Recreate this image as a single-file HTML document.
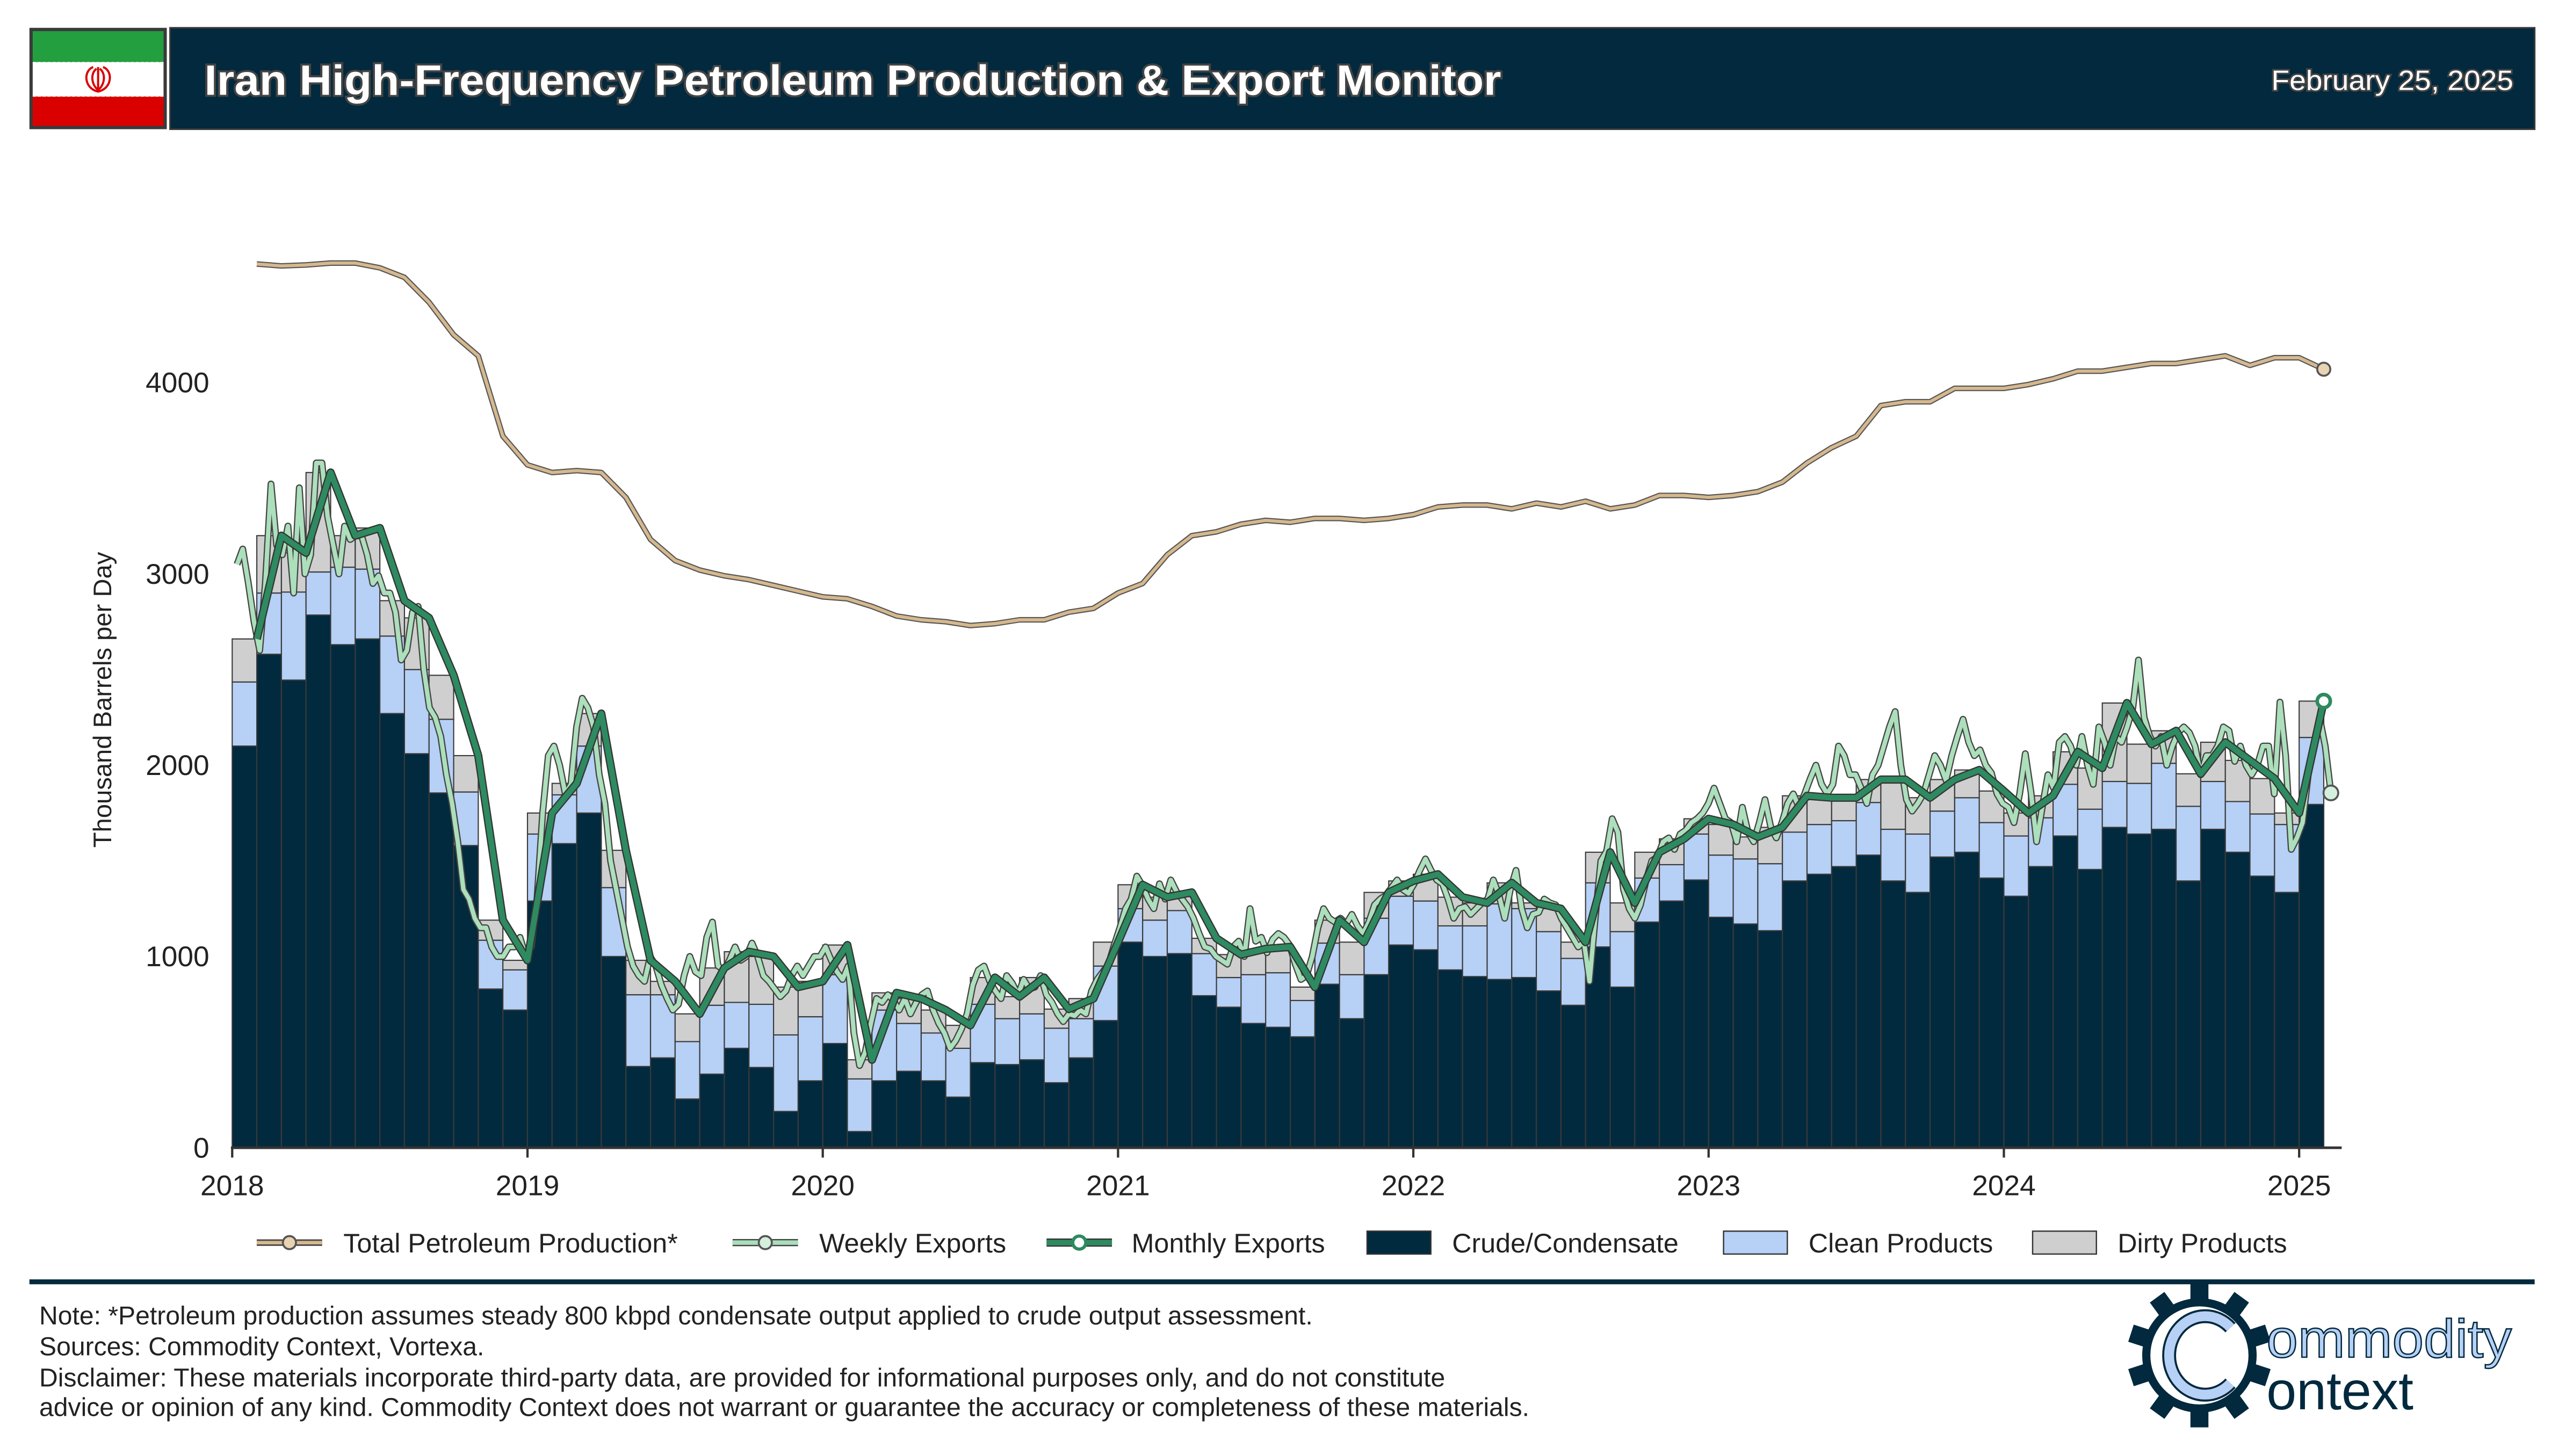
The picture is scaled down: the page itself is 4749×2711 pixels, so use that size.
<!DOCTYPE html>
<html><head><meta charset="utf-8">
<style>
html,body{margin:0;padding:0;background:#fff;}
svg{display:block;}
text{font-family:"Liberation Sans",Arial,sans-serif;}
</style></head>
<body>
<svg id="root" width="4749" height="2711" viewBox="0 0 1560 890.5" xmlns="http://www.w3.org/2000/svg">
  <rect x="0" y="0" width="1560" height="890.5" fill="#fff"/>
  <g>
    <g>
      <rect x="18" y="17" width="84" height="62" fill="#3a3a3a"/>
      <rect x="20" y="19" width="80" height="19" fill="#239f40"/>
      <rect x="20" y="38" width="80" height="21" fill="#fff"/>
      <rect x="20" y="59" width="80" height="18" fill="#da0000"/>
      <line x1="20" y1="38.5" x2="100" y2="38.5" stroke="#fff" stroke-width="1.2" stroke-dasharray="2 1"/>
      <line x1="20" y1="58.5" x2="100" y2="58.5" stroke="#fff" stroke-width="1.2" stroke-dasharray="2 1"/>
      <g fill="none" stroke="#da0000" stroke-width="1.3">
        <path d="M57 41 C51 43 51 54 60 56 C69 54 69 43 63 41"/>
        <path d="M59 42 C55 45 56 52 60 55 C64 52 65 45 61 42"/>
        <line x1="60" y1="41" x2="60" y2="56"/>
      </g>
    </g>
    <rect x="104" y="17" width="1446" height="62" fill="#02293d" stroke="#3a3a3a" stroke-width="1"/>
    <text x="125" y="58" font-size="26" font-weight="bold" fill="#fff" stroke="#444" stroke-width="2.5" paint-order="stroke" textLength="793" lengthAdjust="spacingAndGlyphs">Iran High-Frequency Petroleum Production &amp; Export Monitor</text>
    <text x="1537" y="55" font-size="17" fill="#fff" stroke="#444" stroke-width="2" paint-order="stroke" text-anchor="end" textLength="148" lengthAdjust="spacingAndGlyphs">February 25, 2025</text>
  </g>

  <g id="chart"></g>

  <g font-size="16.5" fill="#222">
    <g>
      <line x1="157" y1="760" x2="197" y2="760" stroke="#444" stroke-width="4"/>
      <line x1="157" y1="760" x2="197" y2="760" stroke="#d6b88e" stroke-width="2.2"/>
      <circle cx="177" cy="760" r="4" fill="#e8d3b3" stroke="#555" stroke-width="1.2"/>
      <text x="210" y="766">Total Petroleum Production*</text>
    </g>
    <g>
      <line x1="448" y1="760" x2="488" y2="760" stroke="#444" stroke-width="4.4"/>
      <line x1="448" y1="760" x2="488" y2="760" stroke="#a9debb" stroke-width="2.8"/>
      <circle cx="468" cy="760" r="4" fill="#d4f0dc" stroke="#555" stroke-width="1.2"/>
      <text x="501" y="766">Weekly Exports</text>
    </g>
    <g>
      <line x1="640" y1="760" x2="680" y2="760" stroke="#333" stroke-width="5"/>
      <line x1="640" y1="760" x2="680" y2="760" stroke="#2e8a60" stroke-width="3.5"/>
      <circle cx="660" cy="760" r="4" fill="#fff" stroke="#2e8a60" stroke-width="2"/>
      <text x="692" y="766">Monthly Exports</text>
    </g>
    <g>
      <rect x="836" y="753" width="39" height="14" fill="#022a3e" stroke="#333" stroke-width="0.8"/>
      <text x="888" y="766">Crude/Condensate</text>
    </g>
    <g>
      <rect x="1054" y="753" width="39" height="14" fill="#b6d0f6" stroke="#333" stroke-width="0.8"/>
      <text x="1106" y="766">Clean Products</text>
    </g>
    <g>
      <rect x="1243" y="753" width="39" height="14" fill="#cfcfcf" stroke="#333" stroke-width="0.8"/>
      <text x="1295" y="766">Dirty Products</text>
    </g>
  </g>

  <line x1="18" y1="784" x2="1550" y2="784" stroke="#02293d" stroke-width="3"/>

  <g font-size="15.8" fill="#222">
    <text x="24" y="810">Note: *Petroleum production assumes steady 800 kbpd condensate output applied to crude output assessment.</text>
    <text x="24" y="829">Sources: Commodity Context, Vortexa.</text>
    <text x="24" y="848">Disclaimer: These materials incorporate third-party data, are provided for informational purposes only, and do not constitute</text>
    <text x="24" y="866">advice or opinion of any kind. Commodity Context does not warrant or guarantee the accuracy or completeness of these materials.</text>
  </g>

  <g>
    <g id="gear" fill="#02293d"></g>
    <circle cx="1345" cy="829" r="30" fill="#fff"/>
    <path d="M1364 812 A22 24 0 1 0 1364 846" fill="none" stroke="#02293d" stroke-width="8.5"/>
    <path d="M1364 812 A22 24 0 1 0 1364 846" fill="none" stroke="#b6d0f6" stroke-width="6"/>
    <text x="1386" y="830" font-size="33" fill="#b6d0f6" stroke="#02293d" stroke-width="0.8" textLength="150" lengthAdjust="spacingAndGlyphs">ommodity</text>
    <text x="1386" y="862" font-size="33" fill="#02293d">ontext</text>
  </g>
</svg>
<script>
// ---------- data ----------
const crude = [2100,2580,2445,2785,2630,2660,2270,2060,1855,1580,830,720,
1290,1590,1750,1000,425,470,255,385,520,420,190,350,
545,85,350,400,350,265,445,435,460,340,470,665,
1075,1000,1015,795,735,650,630,580,855,675,905,1060,
1035,930,895,880,890,820,745,1050,840,1180,1290,1400,
1205,1170,1135,1395,1430,1470,1530,1395,1335,1520,1545,1410,
1315,1470,1630,1455,1675,1640,1665,1395,1665,1545,1420,1335,
1795];
const clean = [335,320,460,225,405,365,405,440,385,280,255,210,
350,255,350,360,375,330,300,360,240,330,400,335,
360,275,370,250,250,255,305,240,240,285,205,285,
175,190,225,220,155,255,285,190,215,230,295,255,
255,230,265,395,360,310,245,335,290,230,190,240,
325,340,350,255,260,240,275,270,305,240,285,290,
315,255,270,315,240,265,345,390,250,265,325,355,
350];
const dirty = [225,300,205,520,165,215,185,270,230,190,105,50,
110,60,170,195,180,70,145,195,265,250,250,185,
155,100,90,130,120,120,140,115,190,100,105,125,
125,120,95,80,120,135,135,70,120,170,135,80,
140,150,120,110,30,120,85,160,150,135,135,80,
160,115,190,190,140,120,120,260,190,165,145,165,
120,115,170,215,410,205,170,170,205,215,185,60,
190];
const monthlyExports = [2660,3200,3110,3530,3200,3240,2860,2770,2470,2050,1190,980,
1750,1905,2270,1555,980,870,700,940,1025,1000,840,870,
1060,460,810,780,720,640,890,790,890,725,780,1075,
1375,1310,1335,1095,1010,1040,1050,840,1190,1075,1335,1395,
1430,1310,1280,1385,1280,1250,1075,1545,1280,1545,1615,1720,
1690,1625,1675,1840,1830,1830,1925,1925,1830,1925,1975,1865,
1750,1840,2070,1985,2325,2110,2180,1955,2120,2025,1930,1750,
2335];
const totalProduction = [4620,4610,4615,4625,4625,4600,4550,4420,4250,4140,3720,3570,
3530,3540,3530,3400,3180,3070,3020,2990,2970,2940,2910,2880,
2870,2830,2780,2760,2750,2730,2740,2760,2760,2800,2820,2900,
2950,3100,3200,3220,3260,3280,3270,3290,3290,3280,3290,3310,
3350,3360,3360,3340,3370,3350,3380,3340,3360,3410,3410,3400,
3410,3430,3480,3580,3660,3720,3880,3900,3900,3970,3970,3970,
3990,4020,4060,4060,4080,4100,4100,4120,4140,4090,4130,4130,
4070];
const weeklyExports = [3050,3130,2950,2750,2600, 2950,3470,3150,3100, 3250,2900,3450,3000, 3100,3580,3580,3300,3150, 3000,3250,3180,3200, 3200,3100,2950,2990, 2900,2900,2800,2550,2600, 2800,2830,2500,2300, 2250,2150,1950,1800, 1600,1350,1300,1200,1150, 1150,1050,1000,1000, 1050,1050,1100,1000,
1050,1300,1750,2050,2100, 2000,1850,1900,2200, 2350,2300,2200,1950, 1800,1500,1350,1200,1050, 950,900,870,1000, 950,850,780,720, 750,900,1000,920,900, 1100,1180,950,930, 980,1050,980,1000, 1070,1000,900,870,830, 790,820,900,950, 900,950,1000,1000,
1050,980,920,880,950, 600,430,500,650, 780,760,800,770, 720,780,700,760,800, 820,720,650,600, 520,560,620,700, 850,930,950,870,820, 780,900,860,800, 880,830,840,900, 800,760,700,660,700, 690,720,700,820, 880,920,960,1060,
1150,1250,1300,1420,1370, 1300,1250,1380,1300, 1400,1340,1300,1260, 1200,1120,1050,1040,1000, 980,960,1050,1080, 1000,1250,1080,1100, 1020,1090,1120,1100,1060, 960,880,900,1000, 1150,1250,1200,1180, 1200,1170,1220,1160,1120, 1180,1270,1300,1320, 1360,1400,1350,1330,
1380,1450,1510,1450,1400, 1380,1300,1200,1250, 1260,1220,1250,1280, 1300,1400,1320,1200,1350, 1450,1250,1150,1220, 1230,1300,1280,1270, 1200,1150,1100,1050,1080, 870,1200,1500,1550, 1720,1650,1350,1250, 1200,1270,1400,1500,1520, 1600,1620,1560,1640, 1660,1700,1720,1750,
1800,1880,1800,1720,1700, 1600,1780,1650,1600, 1700,1820,1680,1620, 1700,1800,1850,1780,1850, 1930,2000,1900,1850, 1900,2100,2050,1950, 1950,1880,1800,1950,2000, 2100,2200,2280,2000, 1820,1760,1800,1850, 1950,2050,2000,1920,2050, 2150,2240,2120,2050, 2080,2000,1960,1850,
1800,1780,1700,1850,2060, 1860,1600,1780,1950, 1880,2120,2150,2100, 2000,2150,2000,1900,2200, 2120,2000,2150,2120, 2200,2300,2550,2250, 2150,2100,2150,2000,2100, 2170,2200,2170,2100, 1950,2050,2050,2100, 2200,2180,2020,2100,2000, 1950,2000,2100,2100, 1850,2330,2050,1560,
1620,1700,1950,2100,2250, 2100,1855];
const yTicks = [0,1000,2000,3000,4000];
const xTickYears = [2018,2019,2020,2021,2022,2023,2024,2025];

// ---------- axes ----------
const X0 = 142, PXYEAR = 180.57, Y0 = 702, PXUNIT = 0.117;
function xYear(t){ return X0 + (t - 2018) * PXYEAR; }
function xMonth(i){ return xYear(2018 + i / 12); }
function yVal(v){ return Y0 - v * PXUNIT; }

const NS = "http://www.w3.org/2000/svg";
const chart = document.getElementById('chart');
function mk(tag, attrs, parent){
  const e = document.createElementNS(NS, tag);
  for (const k in attrs) e.setAttribute(k, attrs[k]);
  (parent || chart).appendChild(e);
  return e;
}

const barsG = mk('g', {});


const bw = PXYEAR / 12;
for (let i = 0; i < crude.length; i++){
  const x = xMonth(i);
  const segs = [[crude[i], '#022a3e', 'crude'], [clean[i], '#b6d0f6', 'clean'], [dirty[i], '#cfcfcf', 'dirty']];
  let base = 0;
  for (const s of segs){
    const r = mk('rect', {x: x, y: yVal(base + s[0]), width: bw, height: s[0] * PXUNIT, fill: s[1], stroke: '#3a3a3a', 'stroke-width': 0.7}, barsG);
    
    
    base += s[0];
  }
}

function linePath(pts){ return pts.map((p, i) => (i ? 'L' : 'M') + p[0].toFixed(2) + ' ' + p[1].toFixed(2)).join(' '); }

const prodPts = totalProduction.map((v, i) => [xMonth(i + 1), yVal(v)]);
const prodOut = mk('path', {d: linePath(prodPts), fill: 'none', stroke: '#555', 'stroke-width': 3.4, 'stroke-linejoin': 'round'});


const prodLine = mk('path', {d: linePath(prodPts), fill: 'none', stroke: '#d6b88e', 'stroke-width': 2, 'stroke-linejoin': 'round'});


const pl = prodPts[prodPts.length - 1];
const prodEnd = mk('circle', {cx: pl[0], cy: pl[1], r: 4, fill: '#e8d3b3', stroke: '#555', 'stroke-width': 1.2});



const weekPts = weeklyExports.map((v, i) => [xYear(2018 + (6 + 7 * i) / 365.25), yVal(v)]);
const wkOut = mk('path', {d: linePath(weekPts), fill: 'none', stroke: '#444', 'stroke-width': 4.2, 'stroke-linejoin': 'round'});


const wkLine = mk('path', {d: linePath(weekPts), fill: 'none', stroke: '#acdfbb', 'stroke-width': 2.7, 'stroke-linejoin': 'round'});



const monPts = monthlyExports.map((v, i) => [xMonth(i + 1), yVal(v)]);
const monOut = mk('path', {d: linePath(monPts), fill: 'none', stroke: '#333', 'stroke-width': 5, 'stroke-linejoin': 'round'});


const monLine = mk('path', {d: linePath(monPts), fill: 'none', stroke: '#2e8a60', 'stroke-width': 3.5, 'stroke-linejoin': 'round'});


const ml = monPts[monPts.length - 1];
const monEnd = mk('circle', {cx: ml[0], cy: ml[1], r: 4, fill: '#fff', stroke: '#2e8a60', 'stroke-width': 2.2});


const wl = weekPts[weekPts.length - 1];
const wkEnd = mk('circle', {cx: wl[0], cy: wl[1], r: 4.5, fill: '#d4f0dc', stroke: '#555', 'stroke-width': 1.2});



const ax = mk('g', {});


const xAxis = mk('line', {x1: X0 - 0.8, y1: Y0, x2: 1432, y2: Y0, stroke: '#333', 'stroke-width': 1.6}, ax);


for (const v of yTicks){
  const y = yVal(v);
  const t = mk('text', {x: X0 - 14, y: y + 6, 'font-size': 17.5, fill: '#222', 'text-anchor': 'end'}, ax);
  t.textContent = String(v);
  
  
}
for (const yr of xTickYears){
  const x = xYear(yr);
  const tk = mk('line', {x1: x, y1: Y0, x2: x, y2: Y0 + 6, stroke: '#333', 'stroke-width': 1.4}, ax);
  
  
  const t = mk('text', {x: x, y: Y0 + 29, 'font-size': 17.5, fill: '#222', 'text-anchor': 'middle'}, ax);
  t.textContent = String(yr);
  
  
}
const yt = mk('text', {x: 0, y: 0, 'font-size': 15.5, fill: '#222', 'text-anchor': 'middle', transform: 'translate(68 428) rotate(-90)'}, ax);
yt.textContent = 'Thousand Barrels per Day';



const gear = document.getElementById('gear');
const gcx = 1345, gcy = 829;
const ring = mk('circle', {cx: gcx, cy: gcy, r: 35}, gear);


for (let k = 0; k < 10; k++){
  const a = k * 36;
  const tooth = mk('rect', {x: gcx - 5.5, y: gcy - 44, width: 11, height: 12, transform: 'rotate(' + a + ' ' + gcx + ' ' + gcy + ')'}, gear);
  
  
}
</script>
</body></html>
